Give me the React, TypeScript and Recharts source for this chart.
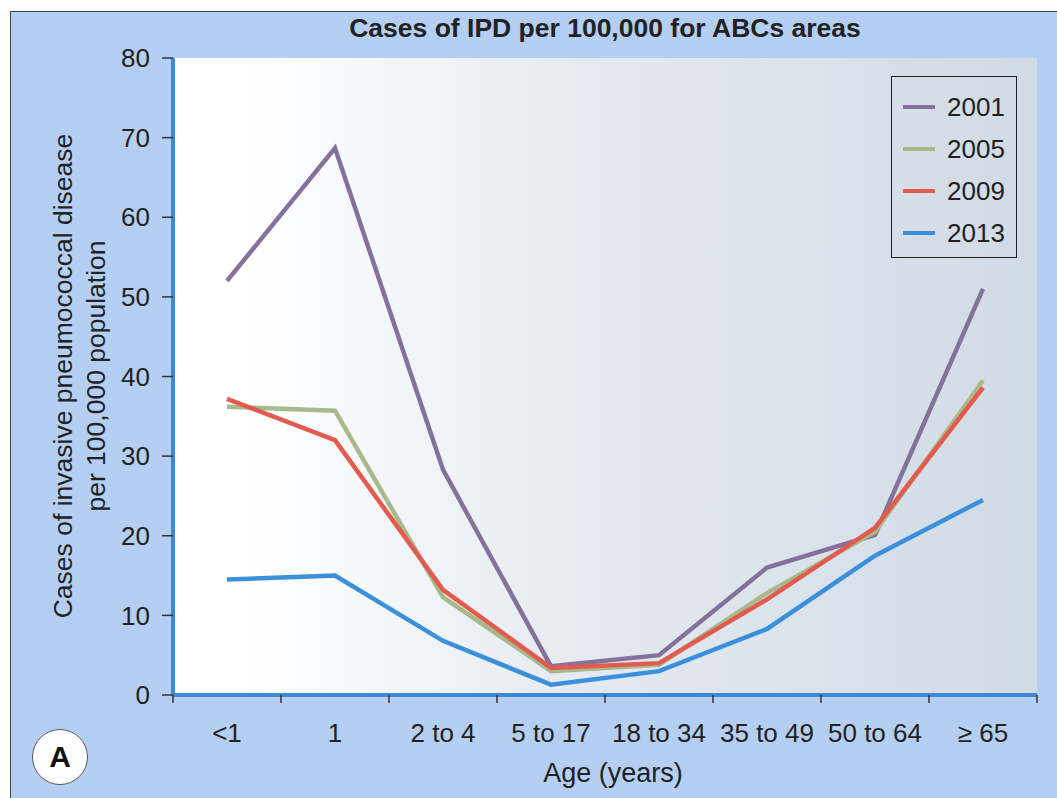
import React from 'react';
import { LineChart, Line, XAxis, YAxis, CartesianGrid } from 'recharts';

// Age groups on the x axis
const AGE_GROUPS = ['<1', '1', '2 to 4', '5 to 17', '18 to 34', '35 to 49', '50 to 64', '\u2265 65'];

// Cases of IPD per 100,000
const CASES_2001 = [52, 68.7, 28.3, 3.6, 5, 16, 20.1, 51];
const CASES_2005 = [36.2, 35.7, 12.3, 3, 3.8, 12.8, 20.5, 39.5];
const CASES_2009 = [37.2, 32, 13.2, 3.4, 4, 12, 21, 38.6];
const CASES_2013 = [14.5, 15, 6.8, 1.3, 3, 8.3, 17.5, 24.5];

const Y_TICKS = [0, 10, 20, 30, 40, 50, 60, 70, 80];
const BAND_EDGES = [0, 1, 2, 3, 4, 5, 6, 7, 8];

const SERIES = [
  { key: 'y2001', name: '2001', color: '#85729c', values: CASES_2001 },
  { key: 'y2005', name: '2005', color: '#a7ba8c', values: CASES_2005 },
  { key: 'y2009', name: '2009', color: '#e35b4f', values: CASES_2009 },
  { key: 'y2013', name: '2013', color: '#3b8fdb', values: CASES_2013 },
];

const data = AGE_GROUPS.map((age, i) => {
  const row: { [key: string]: any } = { age, band: i };
  SERIES.forEach((s) => {
    row[s.key] = s.values[i];
  });
  return row;
});

const AXIS_BLUE = '#3f87d7';
const FONT = '"Liberation Sans", Arial, Helvetica, sans-serif';
const TEXT = '#222';

// two-line rotated y axis title
const YTitle = () => (
  <g>
    <text x={63} y={376} transform="rotate(-90 63 376)" textAnchor="middle" dominantBaseline="central"
      fontSize={26.5} fill={TEXT} fontFamily={FONT}>
      Cases of invasive pneumococcal disease
    </text>
    <text x={96} y={376} transform="rotate(-90 96 376)" textAnchor="middle" dominantBaseline="central"
      fontSize={26.5} fill={TEXT} fontFamily={FONT}>
      per 100,000 population
    </text>
  </g>
);

export default function App() {
  return (
    <div style={{ position: 'absolute', left: 0, top: 0, width: 1057, height: 798, overflow: 'hidden', fontFamily: FONT }}>
      {/* outer panel */}
      <div style={{
        position: 'absolute', left: 10, top: 11, width: 1047, height: 787,
        borderLeft: '1.5px solid #444', borderTop: '1.5px solid #444', background: '#b5cff2'
      }} />

      <div style={{ position: 'absolute', left: 0, top: 0 }}>
        <LineChart width={1057} height={798} data={data} margin={{ top: 58, right: 20, left: 0, bottom: 51 }}>
          <defs>
            <linearGradient id="plotBg" x1="0" y1="0" x2="1" y2="0">
              <stop offset="0%" stopColor="#ffffff" />
              <stop offset="8%" stopColor="#ffffff" />
              <stop offset="50%" stopColor="#e3e9f0" />
              <stop offset="100%" stopColor="#d1dbe5" />
            </linearGradient>
          </defs>
          <CartesianGrid
            xAxisId={1}
            horizontal={false}
            vertical={false}
            fill="url(#plotBg)"
            fillOpacity={1}
          />
          {/* band edge ticks and the blue baseline */}
          <XAxis
            xAxisId={0}
            type="number"
            dataKey="band"
            domain={[0, 8]}
            ticks={BAND_EDGES}
            tickFormatter={() => ''}
            height={12}
            axisLine={{ stroke: AXIS_BLUE, strokeWidth: 4 }}
            tickLine={{ stroke: '#333', strokeWidth: 1.5 }}
            tickSize={8}
            allowDataOverflow
          />
          {/* category labels */}
          <XAxis
            xAxisId={1}
            dataKey="age"
            padding={{ left: 54, right: 54 }}
            height={40}
            axisLine={false}
            tickLine={false}
            tickMargin={11}
            interval={0}
            tick={{ fontSize: 26, fill: TEXT, fontFamily: FONT }}
          />
          <YAxis
            domain={[0, 80]}
            ticks={Y_TICKS}
            width={173}
            axisLine={{ stroke: AXIS_BLUE, strokeWidth: 4 }}
            tickLine={{ stroke: '#333', strokeWidth: 1.5 }}
            tickSize={11}
            tickMargin={12}
            tick={{ fontSize: 26, fill: TEXT, fontFamily: FONT }}
            label={<YTitle />}
          />
          {SERIES.map((s) => (
            <Line
              key={s.key}
              xAxisId={1}
              type="linear"
              dataKey={s.key}
              name={s.name}
              stroke={s.color}
              strokeWidth={4.5}
              dot={false}
              activeDot={false}
              isAnimationActive={false}
            />
          ))}
        </LineChart>
      </div>

      {/* title */}
      <div style={{ position: 'absolute', left: 173, width: 864, top: 13, textAlign: 'center', fontSize: 26.5, fontWeight: 'bold', color: TEXT }}>
        Cases of IPD per 100,000 for ABCs areas
      </div>

      {/* x axis title */}
      <div style={{ position: 'absolute', left: 513, width: 200, top: 758, textAlign: 'center', fontSize: 27, color: TEXT }}>
        Age (years)
      </div>

      {/* legend */}
      <div style={{
        position: 'absolute', left: 891, top: 76, width: 124, height: 180,
        border: '1.5px solid #222', boxSizing: 'content-box'
      }}>
        {SERIES.map((s, i) => (
          <div key={s.key} style={{ position: 'absolute', left: 11, top: 16 + i * 42, display: 'flex', alignItems: 'center' }}>
            <div style={{ width: 32, height: 4, background: s.color }} />
            <span style={{ marginLeft: 12, fontSize: 26, color: TEXT, lineHeight: '28px' }}>{s.name}</span>
          </div>
        ))}
      </div>

      {/* panel letter */}
      <div style={{
        position: 'absolute', left: 32, top: 729, width: 54, height: 54, borderRadius: '50%',
        background: '#fff', border: '1.5px solid #555', display: 'flex', alignItems: 'center',
        justifyContent: 'center', fontSize: 30, fontWeight: 'bold', color: '#111'
      }}>
        A
      </div>
    </div>
  );
}
